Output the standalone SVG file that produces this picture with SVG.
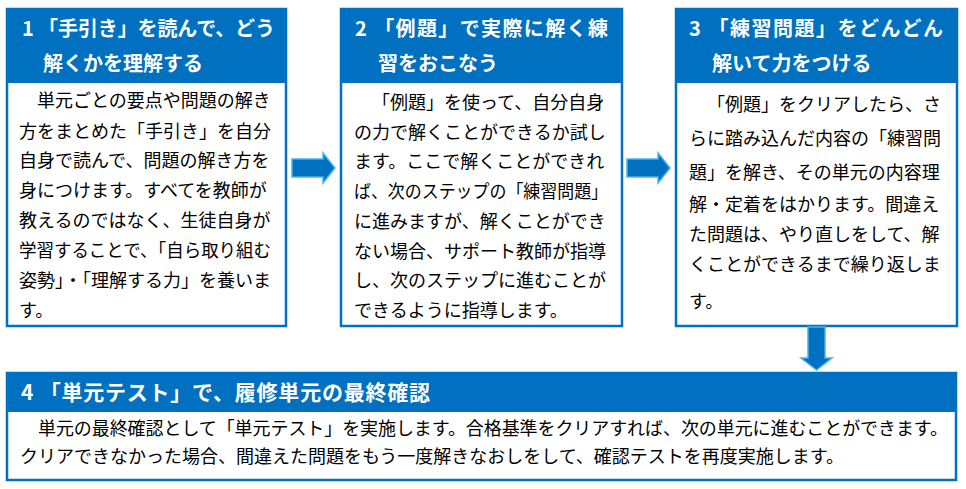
<svg xmlns="http://www.w3.org/2000/svg" width="966" height="489" viewBox="0 0 966 489">
<style>
.box{fill:#ffffff;stroke:#0070C0;stroke-width:2.5}
.hdr{fill:#0070C0}
.ttl{font-family:"Noto Sans CJK JP","Noto Sans",sans-serif;font-weight:700;font-size:20px;fill:#ffffff}
.body{font-family:"Noto Sans CJK JP","Noto Sans",sans-serif;font-weight:400;font-size:18px;fill:#000000}
.arr{fill:#0070C0;stroke:#4AB3EE;stroke-width:1.5;stroke-linejoin:miter}
</style>
<rect width="966" height="489" fill="#ffffff"/>
<g id="step1">
<rect class="box" x="7" y="9" width="279" height="317"/>
<rect class="hdr" x="6" y="8" width="281" height="75"/>
<text class="ttl" x="22" y="36" textLength="253" lengthAdjust="spacing">1 「手引き」を読んで、どう</text>
<text class="ttl" x="43" y="71">解くかを理解する</text>
<text class="body" x="37" y="107">単元ごとの要点や問題の解き</text>
<text class="body" x="19" y="138">方をまとめた「手引き」を自分</text>
<text class="body" x="19" y="167">自身で読んで、問題の解き方を</text>
<text class="body" x="19" y="197">身につけます。すべてを教師が</text>
<text class="body" x="19" y="227">教えるのではなく、生徒自身が</text>
<text class="body" x="19" y="257" textLength="252" lengthAdjust="spacingAndGlyphs">学習することで、「自ら取り組む</text>
<text class="body" x="19" y="287" textLength="252" lengthAdjust="spacingAndGlyphs">姿勢」・「理解する力」を養いま</text>
<text class="body" x="19" y="317">す。</text>
</g>
<g id="step2">
<rect class="box" x="341" y="9" width="281" height="317"/>
<rect class="hdr" x="340" y="8" width="283" height="75"/>
<text class="ttl" x="355" y="36" textLength="253" lengthAdjust="spacing">2 「例題」で実際に解く練</text>
<text class="ttl" x="378" y="71">習をおこなう</text>
<text class="body" x="372" y="109">「例題」を使って、自分自身</text>
<text class="body" x="354" y="139">の力で解くことができるか試し</text>
<text class="body" x="354" y="168">ます。ここで解くことができれ</text>
<text class="body" x="354" y="198" textLength="254" lengthAdjust="spacingAndGlyphs">ば、次のステップの「練習問題」</text>
<text class="body" x="354" y="228">に進みますが、解くことができ</text>
<text class="body" x="354" y="258">ない場合、サポート教師が指導</text>
<text class="body" x="354" y="287">し、次のステップに進むことが</text>
<text class="body" x="354" y="317">できるように指導します。</text>
</g>
<g id="step3">
<rect class="box" x="676" y="9" width="281" height="317"/>
<rect class="hdr" x="675" y="8" width="283" height="75"/>
<text class="ttl" x="689" y="36" textLength="254" lengthAdjust="spacing">3 「練習問題」をどんどん</text>
<text class="ttl" x="712" y="71">解いて力をつける</text>
<text class="body" x="707" y="111">「例題」をクリアしたら、さ</text>
<text class="body" x="689" y="145">らに踏み込んだ内容の「練習問</text>
<text class="body" x="689" y="179">題」を解き、その単元の内容理</text>
<text class="body" x="689" y="211">解・定着をはかります。間違え</text>
<text class="body" x="689" y="241">た問題は、やり直しをして、解</text>
<text class="body" x="689" y="271">くことができるまで繰り返しま</text>
<text class="body" x="689" y="308">す。</text>
</g>
<g id="step4">
<rect class="box" x="7" y="373" width="949" height="107"/>
<rect class="hdr" x="6" y="372" width="951" height="40"/>
<text class="ttl" x="21" y="400" style="font-size:21px" textLength="409" lengthAdjust="spacing">4 「単元テスト」で、履修単元の最終確認</text>
<text class="body" x="38" y="435" textLength="910" lengthAdjust="spacing">単元の最終確認として「単元テスト」を実施します。合格基準をクリアすれば、次の単元に進むことができます。</text>
<text class="body" x="20" y="463" textLength="824" lengthAdjust="spacing">クリアできなかった場合、間違えた問題をもう一度解きなおしをして、確認テストを再度実施します。</text>
</g>
<g id="connectors">
<path class="arr" d="M292,159 H323 V153 L335,168 L323,183 V177 H292 Z"/>
<path class="arr" d="M627,159 H658 V153 L670,168 L658,183 V177 H627 Z"/>
<path class="arr" d="M808,327 V358 H801 L816.5,370 L832,358 H825 V327 Z"/>
</g>
</svg>
